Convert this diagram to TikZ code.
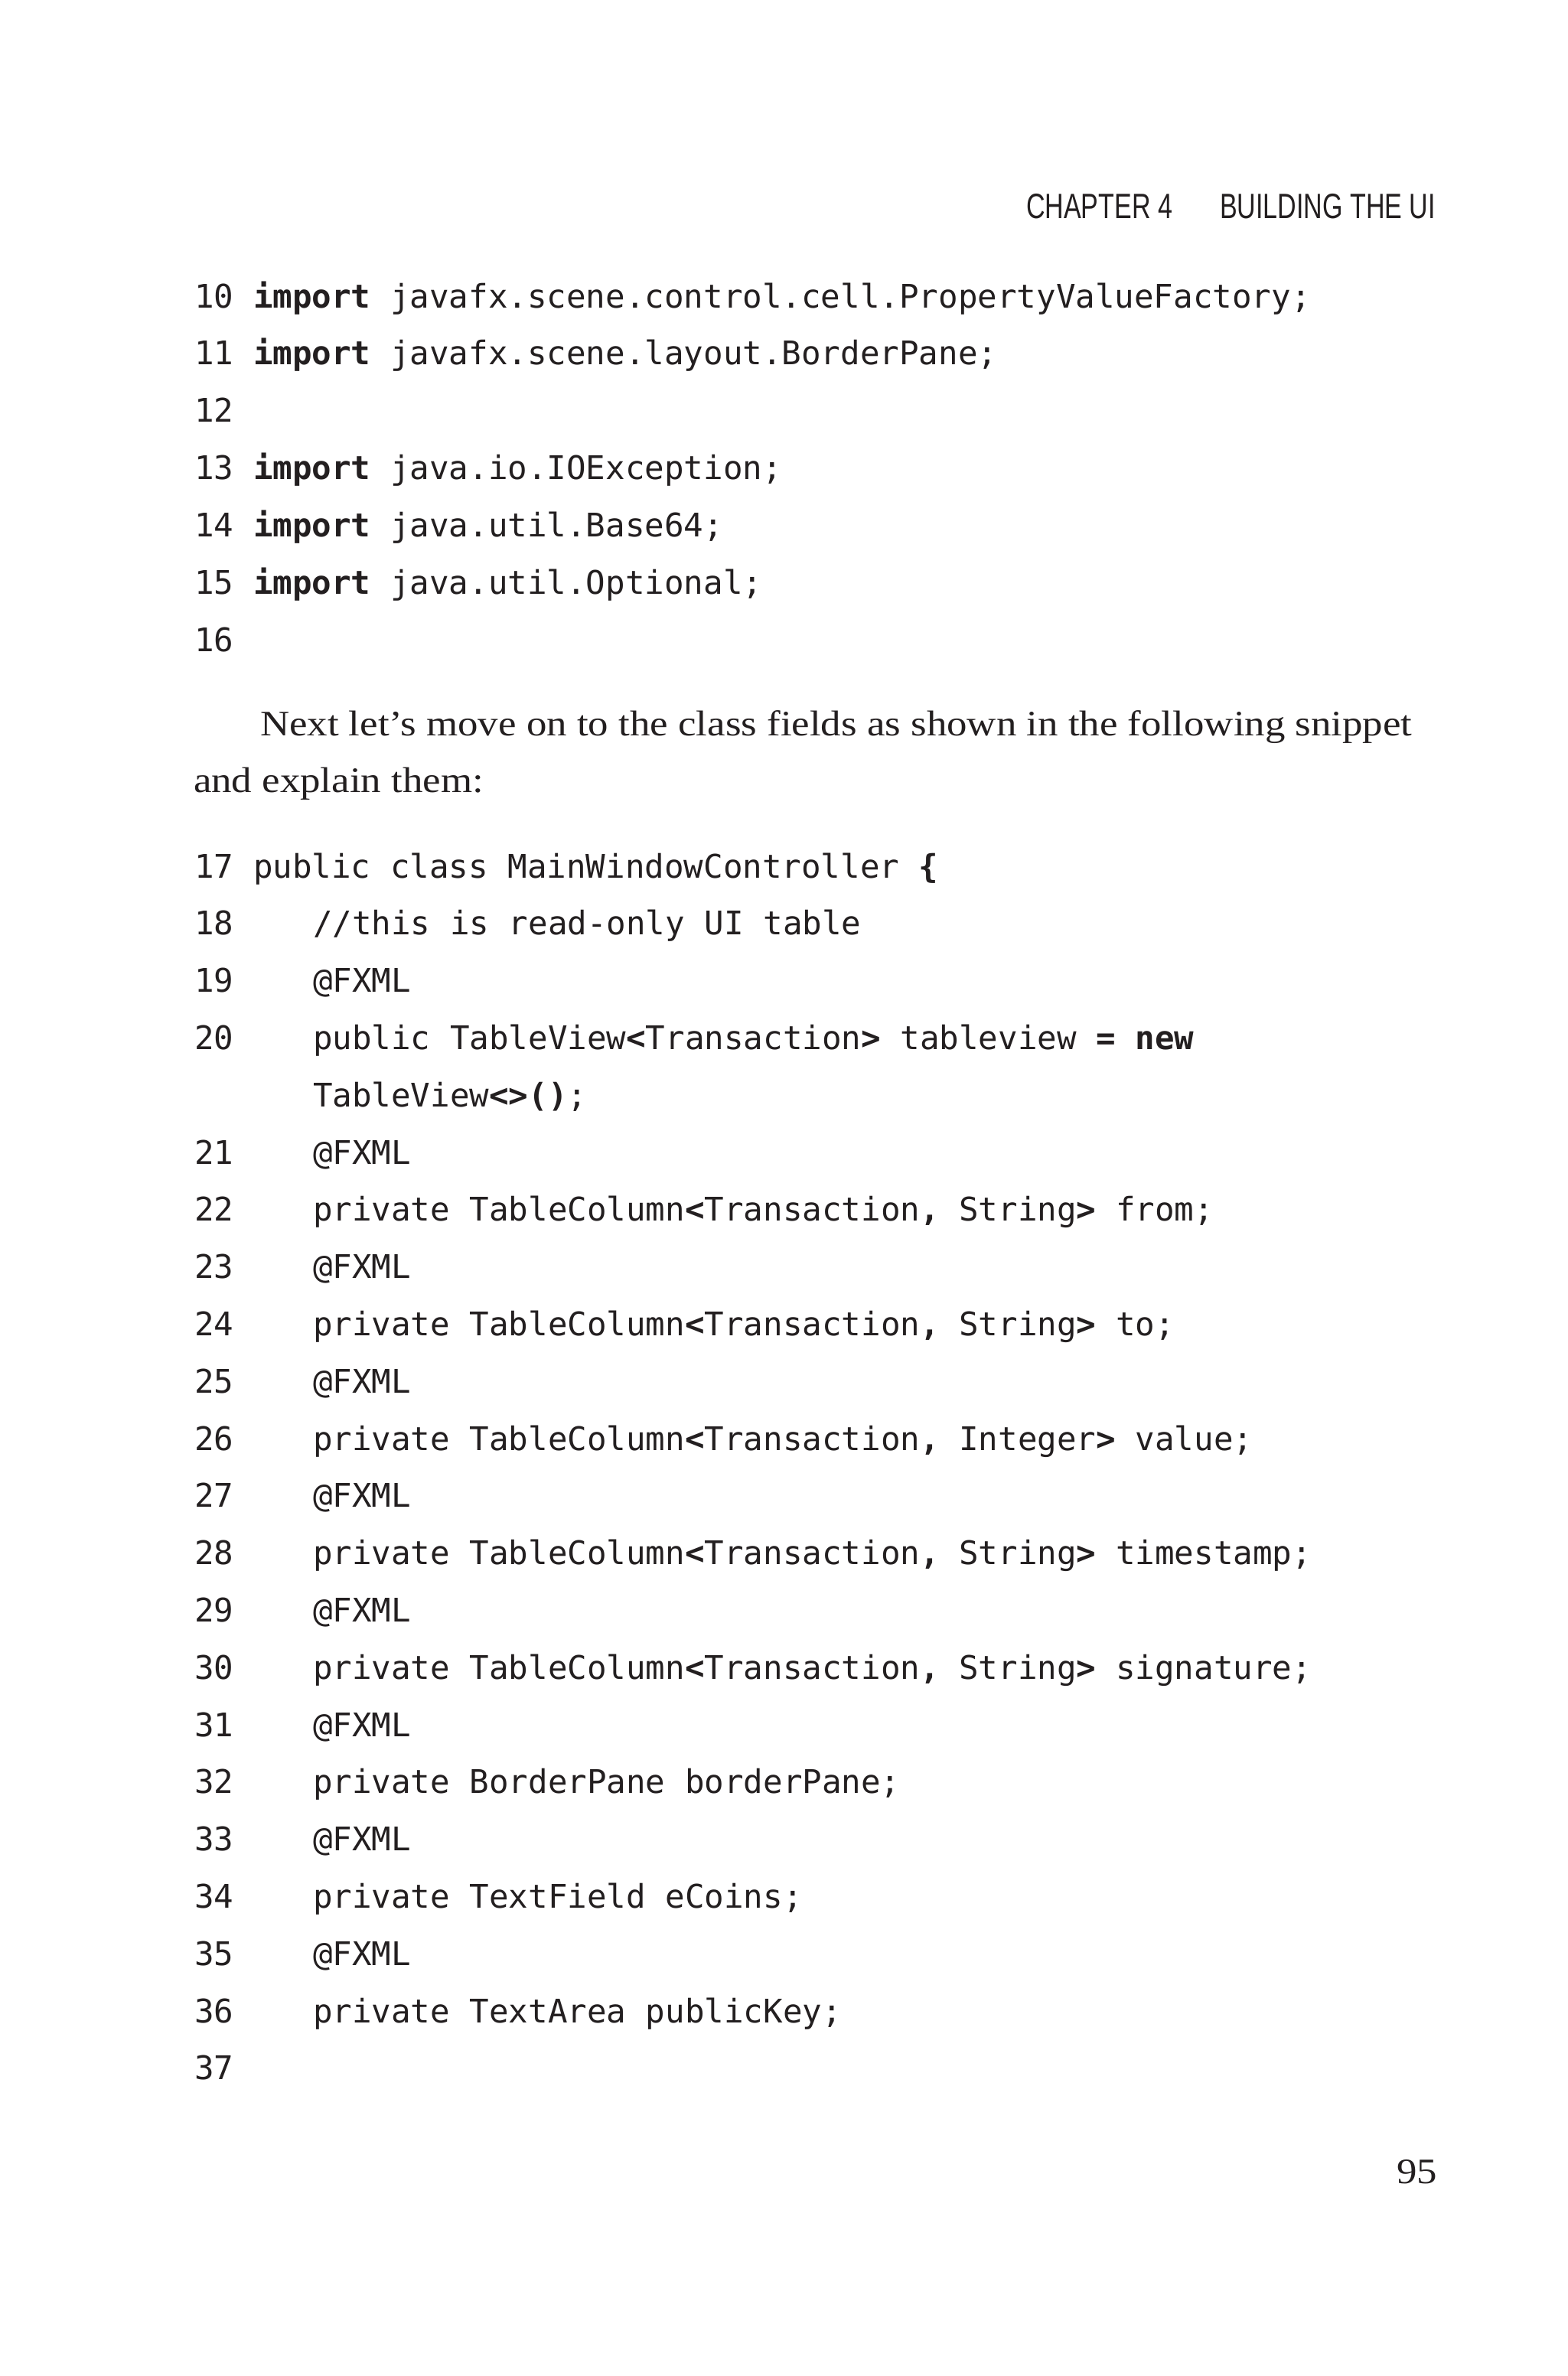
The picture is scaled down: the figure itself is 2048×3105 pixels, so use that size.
\documentclass[tikz,border=0pt]{standalone}
\usepackage{fontspec}
\setmainfont{Liberation Serif}
\newfontfamily\bodyfamily[FakeStretch=1.13]{Liberation Serif}
\newfontfamily\codefamily{DejaVu Sans Mono}
\newfontfamily\headfamily[FakeStretch=0.74]{Liberation Sans}
\usetikzlibrary{positioning}
\definecolor{ink}{HTML}{231F20}
\newcommand{\kw}[1]{\textbf{#1}}
\tikzset{every node/.style={inner sep=0pt, outer sep=0pt, text=ink, anchor=base west},
  lineno/.style={font=\codefamily\fontsize{42.5}{50}\selectfont},
  codeline/.style={font=\codefamily\fontsize{42.5}{50}\selectfont},
  bodytext/.style={font=\bodyfamily\fontsize{46.8}{74}\selectfont},
  headtext/.style={font=\headfamily\fontsize{46}{50}\selectfont}}

\begin{document}
\begin{tikzpicture}[x=1pt, y=-1pt]
  \useasboundingbox[fill=white] (0,0) rectangle (2048,3105);
  % running head
  \node[headtext] (head_chapter) at (1341,285) {CHAPTER 4};
  \node[headtext] (head_title) at (1594,285) {BUILDING THE UI};
  % imports
  \foreach \n in {10,...,16}
    \node[lineno] (num_\n) at (254,{402+74.9*(\n-10)}) {\n};
  \node[codeline] (code_10) at (331,402) {\kw{import} javafx.scene.control.cell.PropertyValueFactory;};
  \node[codeline] (code_11) at (331,{402+74.9}) {\kw{import} javafx.scene.layout.BorderPane;};
  \node[codeline] (code_13) at (331,{402+74.9*3}) {\kw{import} java.io.IOException;};
  \node[codeline] (code_14) at (331,{402+74.9*4}) {\kw{import} java.util.Base64;};
  \node[codeline] (code_15) at (331,{402+74.9*5}) {\kw{import} java.util.Optional;};
  % paragraph
  \node[bodytext] (para_first) at (340,961) {Next let’s move on to the class fields as shown in the following snippet};
  \node[bodytext] (para_second) at (253,1035) {and explain them:};
  % class fields
  \foreach \n in {17,...,20}
    \node[lineno] (num_\n) at (254,{1147+74.8*(\n-17)}) {\n};
  \foreach \n in {21,...,37}
    \node[lineno] (num_\n) at (254,{1147+74.8*(\n-16)}) {\n};
  \node[codeline] (code_19) at (409,{1147+74.8*2}) {@FXML};
  \foreach \n in {21,23,...,35}
    \node[codeline] (code_\n) at (409,{1147+74.8*(\n-16)}) {@FXML};
  \node[codeline] (code_17) at (331,1147) {public class MainWindowController \kw{\{}};
  \node[codeline] (code_18) at (409,{1147+74.8}) {//this is read-only UI table};
  \node[codeline] (code_20) at (409,{1147+74.8*3}) {public TableView\kw{<}Transaction\kw{>} tableview \kw{=} \kw{new}};
  \node[codeline] (code_20b) at (409,{1147+74.8*4}) {TableView\kw{<>()};};
  \node[codeline] (code_22) at (409,{1147+74.8*6}) {private TableColumn\kw{<}Transaction\kw{,} String\kw{>} from;};
  \node[codeline] (code_24) at (409,{1147+74.8*8}) {private TableColumn\kw{<}Transaction\kw{,} String\kw{>} to;};
  \node[codeline] (code_26) at (409,{1147+74.8*10}) {private TableColumn\kw{<}Transaction\kw{,} Integer\kw{>} value;};
  \node[codeline] (code_28) at (409,{1147+74.8*12}) {private TableColumn\kw{<}Transaction\kw{,} String\kw{>} timestamp;};
  \node[codeline] (code_30) at (409,{1147+74.8*14}) {private TableColumn\kw{<}Transaction\kw{,} String\kw{>} signature;};
  \node[codeline] (code_32) at (409,{1147+74.8*16}) {private BorderPane borderPane;};
  \node[codeline] (code_34) at (409,{1147+74.8*18}) {private TextField eCoins;};
  \node[codeline] (code_36) at (409,{1147+74.8*20}) {private TextArea publicKey;};
  % folio
  \node[bodytext, anchor=base east] (page_number) at (1878,2853) {95};
\end{tikzpicture}
\end{document}
